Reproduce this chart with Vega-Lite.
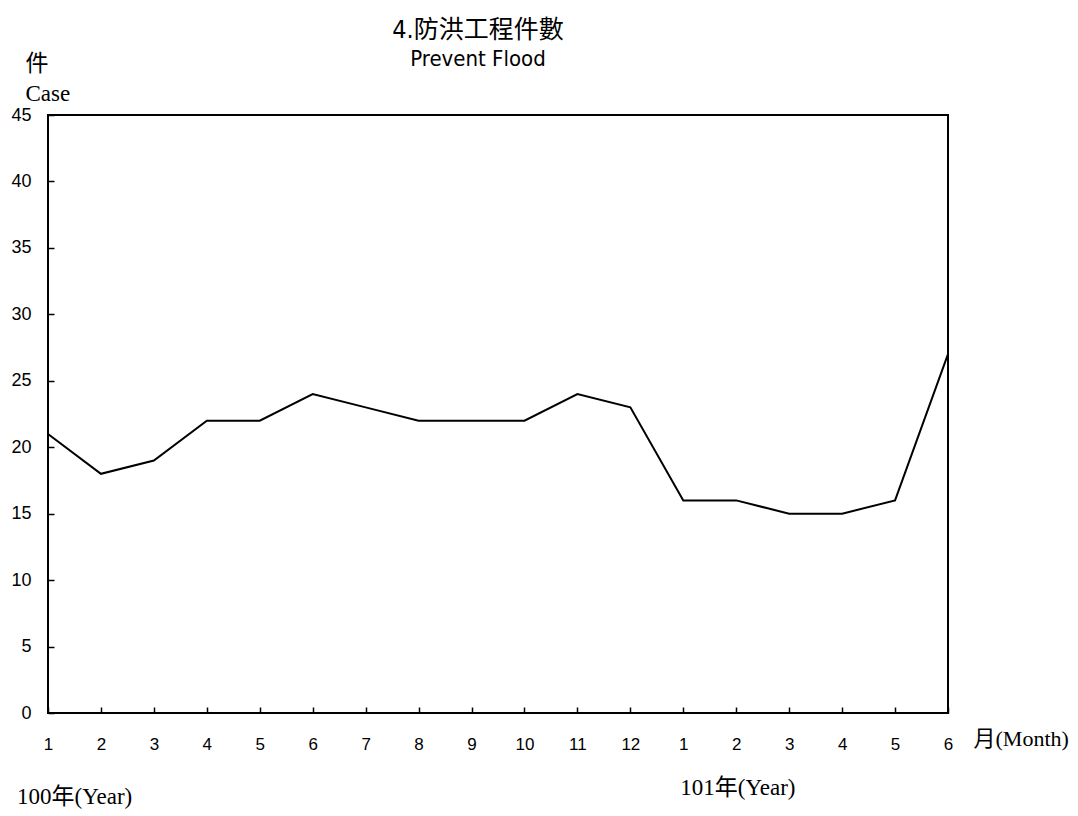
{
  "$schema": "https://vega.github.io/schema/vega-lite/v6.json",
  "width": 900,
  "height": 598,
  "autosize": {"type": "none"},
  "padding": {"left": 48, "top": 115, "right": 130, "bottom": 103},
  "background": "white",
  "config": {
    "view": {"stroke": "black", "strokeWidth": 2},
    "axis": {"grid": false, "domain": false, "tickColor": "black", "tickWidth": 1.5, "labelColor": "black", "labelFont": "Liberation Sans", "labelFontSize": 18}
  },
  "title": {
    "text": "4.防洪工程件數",
    "subtitle": "Prevent Flood",
    "anchor": "middle",
    "dx": -20,
    "offset": -18,
    "font": "Liberation Sans Narrow, DejaVu Sans Condensed, Noto Sans CJK TC, sans-serif",
    "fontSize": 25,
    "fontWeight": "normal",
    "color": "black",
    "subtitleFont": "Liberation Sans Narrow, DejaVu Sans Condensed, sans-serif",
    "subtitleFontSize": 22,
    "subtitleColor": "black",
    "subtitlePadding": 6
  },
  "datasets": {
    "cases": [
      {"idx": 0, "year": "100", "yearLabel": "100年(Year)", "month": 1, "count": 21},
      {"idx": 1, "year": "100", "yearLabel": "100年(Year)", "month": 2, "count": 18},
      {"idx": 2, "year": "100", "yearLabel": "100年(Year)", "month": 3, "count": 19},
      {"idx": 3, "year": "100", "yearLabel": "100年(Year)", "month": 4, "count": 22},
      {"idx": 4, "year": "100", "yearLabel": "100年(Year)", "month": 5, "count": 22},
      {"idx": 5, "year": "100", "yearLabel": "100年(Year)", "month": 6, "count": 24},
      {"idx": 6, "year": "100", "yearLabel": "100年(Year)", "month": 7, "count": 23},
      {"idx": 7, "year": "100", "yearLabel": "100年(Year)", "month": 8, "count": 22},
      {"idx": 8, "year": "100", "yearLabel": "100年(Year)", "month": 9, "count": 22},
      {"idx": 9, "year": "100", "yearLabel": "100年(Year)", "month": 10, "count": 22},
      {"idx": 10, "year": "100", "yearLabel": "100年(Year)", "month": 11, "count": 24},
      {"idx": 11, "year": "100", "yearLabel": "100年(Year)", "month": 12, "count": 23},
      {"idx": 12, "year": "101", "yearLabel": "101年(Year)", "month": 1, "count": 16},
      {"idx": 13, "year": "101", "yearLabel": "101年(Year)", "month": 2, "count": 16},
      {"idx": 14, "year": "101", "yearLabel": "101年(Year)", "month": 3, "count": 15},
      {"idx": 15, "year": "101", "yearLabel": "101年(Year)", "month": 4, "count": 15},
      {"idx": 16, "year": "101", "yearLabel": "101年(Year)", "month": 5, "count": 16},
      {"idx": 17, "year": "101", "yearLabel": "101年(Year)", "month": 6, "count": 27}
    ]
  },
  "data": {"name": "cases"},
  "layer": [
    {
      "mark": {"type": "line", "color": "black", "strokeWidth": 2, "clip": false},
      "encoding": {
        "x": {
          "field": "idx", "type": "quantitative",
          "scale": {"domain": [0, 17], "nice": false, "zero": false},
          "axis": {
            "values": [0,1,2,3,4,5,6,7,8,9,10,11,12,13,14,15,16,17],
            "labelExpr": "datum.value < 12 ? datum.value + 1 : datum.value - 11",
            "labelFlush": false,
            "labelFontSize": 17,
            "tickSize": -6,
            "labelPadding": 29,
            "labelBaseline": "top",
            "title": "月(Month)",
            "titleFont": "Liberation Serif, Noto Sans CJK TC, serif",
            "titleFontSize": 22,
            "titleFontWeight": "normal",
            "titleColor": "black",
            "titleAlign": "left",
            "titleBaseline": "middle",
            "titleX": 925,
            "titleY": 25
          }
        },
        "y": {
          "field": "count", "type": "quantitative",
          "scale": {"domain": [0, 45], "nice": false},
          "axis": {
            "values": [0,5,10,15,20,25,30,35,40,45],
            "tickSize": -6,
            "labelPadding": 23,
            "labelBaseline": "middle",
            "title": ["件", "Case"],
            "titleAngle": 0,
            "titleFont": "Liberation Serif, Noto Sans CJK TC, serif",
            "titleFontSize": 23,
            "titleFontWeight": "normal",
            "titleColor": "black",
            "titleAlign": "left",
            "titleBaseline": "alphabetic",
            "titleLineHeight": 30,
            "titleX": -23,
            "titleY": -45
          }
        }
      }
    },
    {
      "transform": [{"filter": "datum.month == 1"}],
      "mark": {
        "type": "text",
        "font": "Liberation Serif, Noto Sans CJK TC, serif",
        "fontSize": 23,
        "color": "black",
        "align": "left",
        "baseline": "middle",
        "clip": false,
        "dx": {"expr": "datum.year == '100' ? -31 : -3"},
        "dy": {"expr": "datum.year == '100' ? 84 : 75"}
      },
      "encoding": {
        "x": {"field": "idx", "type": "quantitative"},
        "y": {"datum": 0, "type": "quantitative"},
        "text": {"field": "yearLabel"}
      }
    }
  ]
}
